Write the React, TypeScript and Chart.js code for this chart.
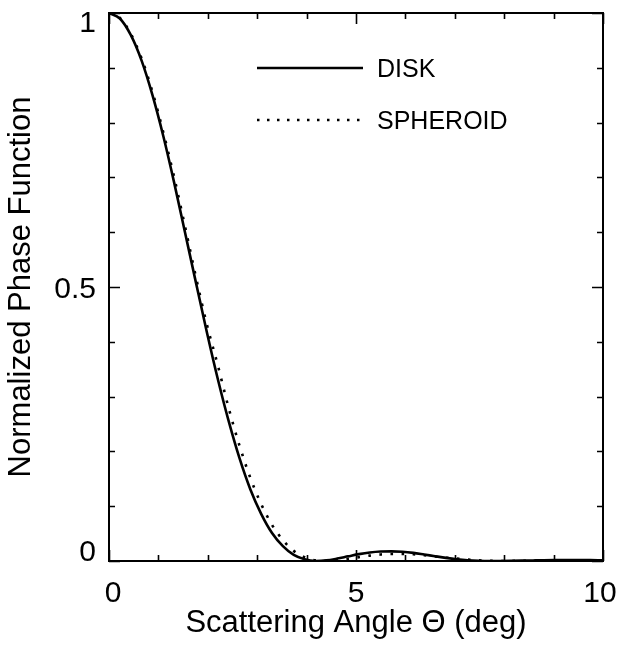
import React, { useEffect, useRef } from 'react';
import { Chart, registerables } from 'chart.js';

Chart.register(...registerables);

const angles = [
  0, 0.22, 0.44, 0.66, 0.88, 1.1, 1.32, 1.54, 1.76, 1.98, 2.2, 2.42, 2.64, 2.86,
  3.08, 3.3, 3.52, 3.74, 3.96, 4.18, 4.4, 4.62, 4.84, 5.06, 5.28, 5.5, 5.72, 5.94,
  6.16, 6.38, 6.6, 6.82, 7.04, 7.26, 7.48, 7.7, 7.92, 8.14, 8.36, 8.58, 8.8, 9.02,
  9.24, 9.46, 9.68, 9.9, 10,
];

const diskValues = [
  1.0, 0.99, 0.96, 0.913, 0.85, 0.775, 0.69, 0.599, 0.508, 0.418, 0.333, 0.256,
  0.188, 0.131, 0.086, 0.051, 0.027, 0.011, 0.003, 0.0001, 0.0011, 0.0044, 0.0085,
  0.0125, 0.0155, 0.0172, 0.0176, 0.0168, 0.0148, 0.0118, 0.0087, 0.0057, 0.0032,
  0.0014, 0.0004, 0.0, 0.0001, 0.0003, 0.0006, 0.001, 0.0014, 0.0017, 0.0019,
  0.0019, 0.0017, 0.0015, 0.0013,
];

const spheroidValues = [
  1.0, 0.991, 0.962, 0.917, 0.856, 0.782, 0.7, 0.61, 0.518, 0.432, 0.358, 0.28,
  0.211, 0.152, 0.104, 0.066, 0.038, 0.0185, 0.0068, 0.0012, 0.0001, 0.0015, 0.0041,
  0.0071, 0.0098, 0.0119, 0.0129, 0.013, 0.0122, 0.0105, 0.0085, 0.0064, 0.0043,
  0.0025, 0.0012, 0.0003, 0.0, 0.0001, 0.0003, 0.0006, 0.0009, 0.0012, 0.0014,
  0.0015, 0.0014, 0.0012, 0.0011,
];

const seriesNames = ['DISK', 'SPHEROID'];
const xLabeledValues = [0, 5, 10];
const xTickLabels = ['0', '5', '10'];
const yLabeledValues = [0, 0.5, 1];
const yTickLabels = ['0', '0.5', '1'];
const xTitle = 'Scattering Angle \u0398 (deg)';
const yTitle = 'Normalized Phase Function';

const FONT = '"Liberation Sans", Arial, Helvetica, sans-serif';

const near = (a: number, b: number) => Math.abs(a - b) < 1e-6;

const framePlugin = {
  id: 'frameTicks',
  afterDraw(chart: any) {
    const { ctx, chartArea } = chart;
    const { left, right, top, bottom } = chartArea;
    const xs = chart.scales.x;
    const ys = chart.scales.y;
    ctx.save();
    ctx.strokeStyle = '#000';
    ctx.fillStyle = '#000';
    ctx.lineWidth = 2;
    ctx.setLineDash([]);
    ctx.strokeRect(left, top, right - left, bottom - top);

    ctx.lineWidth = 1.6;
    ctx.beginPath();
    xs.ticks.forEach((t: any) => {
      const px = Math.round(xs.getPixelForValue(t.value)) + 0.5;
      const major = xLabeledValues.some((v) => near(v, t.value));
      const len = major ? 11 : 6;
      ctx.moveTo(px, bottom);
      ctx.lineTo(px, bottom - len);
      ctx.moveTo(px, top);
      ctx.lineTo(px, top + len);
    });
    ys.ticks.forEach((t: any) => {
      const py = Math.round(ys.getPixelForValue(t.value)) + 0.5;
      const major = yLabeledValues.some((v) => near(v, t.value));
      const len = major ? 11 : 6;
      ctx.moveTo(left, py);
      ctx.lineTo(left + len, py);
      ctx.moveTo(right, py);
      ctx.lineTo(right - len, py);
    });
    ctx.stroke();

    // tick labels
    ctx.font = `30px ${FONT}`;
    ctx.textBaseline = 'alphabetic';
    ctx.textAlign = 'right';
    yLabeledValues.forEach((v, i) => {
      let cy = ys.getPixelForValue(v);
      cy = Math.min(Math.max(cy, top + 8), bottom - 11);
      ctx.fillText(yTickLabels[i], left - 13, cy + 10.5);
    });
    ctx.textAlign = 'center';
    xLabeledValues.forEach((v, i) => {
      let cx = xs.getPixelForValue(v);
      cx = Math.min(Math.max(cx, left + 4), right - 3);
      ctx.fillText(xTickLabels[i], cx, bottom + 41);
    });

    // legend
    const lx0 = 257;
    const lx1 = 363;
    const rows = [68, 120];
    ctx.lineWidth = 2.5;
    ctx.beginPath();
    ctx.moveTo(lx0, rows[0]);
    ctx.lineTo(lx1, rows[0]);
    ctx.stroke();
    ctx.setLineDash([2.5, 7.5]);
    ctx.beginPath();
    ctx.moveTo(lx0, rows[1]);
    ctx.lineTo(lx1, rows[1]);
    ctx.stroke();
    ctx.setLineDash([]);
    ctx.font = `25px ${FONT}`;
    ctx.textAlign = 'left';
    ctx.textBaseline = 'alphabetic';
    ctx.fillText(seriesNames[0], 377, rows[0] + 8.5);
    ctx.fillText(seriesNames[1], 377, rows[1] + 8.5);
    ctx.restore();
  },
};

export default function App() {
  const canvasRef = useRef<HTMLCanvasElement | null>(null);

  useEffect(() => {
    if (!canvasRef.current) return;
    const chart = new Chart(canvasRef.current, {
      type: 'line',
      data: {
        datasets: [
          {
            label: seriesNames[0],
            data: angles.map((a, i) => ({ x: a, y: diskValues[i] })),
            borderColor: '#000',
            borderWidth: 2.6,
            pointRadius: 0,
            cubicInterpolationMode: 'monotone',
            fill: false,
          },
          {
            label: seriesNames[1],
            data: angles.map((a, i) => ({ x: a, y: spheroidValues[i] })),
            borderColor: '#000',
            borderWidth: 2.6,
            borderDash: [2.6, 8.5],
            pointRadius: 0,
            cubicInterpolationMode: 'monotone',
            fill: false,
          },
        ],
      },
      options: {
        animation: false,
        responsive: false,
        maintainAspectRatio: false,
        devicePixelRatio: 1,
        layout: { padding: { top: 13, right: 18, left: 0, bottom: 0 } },
        plugins: {
          legend: { display: false },
          tooltip: { enabled: false },
        },
        scales: {
          x: {
            type: 'linear',
            min: 0,
            max: 10,
            grid: { display: false, drawTicks: false },
            border: { display: false },
            ticks: { display: false, stepSize: 1, autoSkip: false },
            title: {
              display: true,
              text: xTitle,
              color: '#000',
              font: { family: FONT, size: 31, lineHeight: 1.2 },
              padding: { top: 0, bottom: 3 },
            },
            afterFit: (s: any) => {
              s.height = 84;
            },
          },
          y: {
            type: 'linear',
            min: 0,
            max: 1,
            grid: { display: false, drawTicks: false },
            border: { display: false },
            ticks: { display: false, stepSize: 0.1, autoSkip: false },
            title: {
              display: true,
              text: yTitle,
              color: '#000',
              font: { family: FONT, size: 31, lineHeight: 1.2 },
              padding: { top: 3, bottom: 0 },
            },
            afterFit: (s: any) => {
              s.width = 109;
            },
          },
        },
      },
      plugins: [framePlugin],
    } as any);
    return () => chart.destroy();
  }, []);

  return (
    <div style={{ position: 'absolute', left: 0, top: 0, width: 621, height: 645, background: '#fff' }}>
      <canvas ref={canvasRef} width={621} height={645} style={{ display: 'block', width: 621, height: 645 }} />
    </div>
  );
}
